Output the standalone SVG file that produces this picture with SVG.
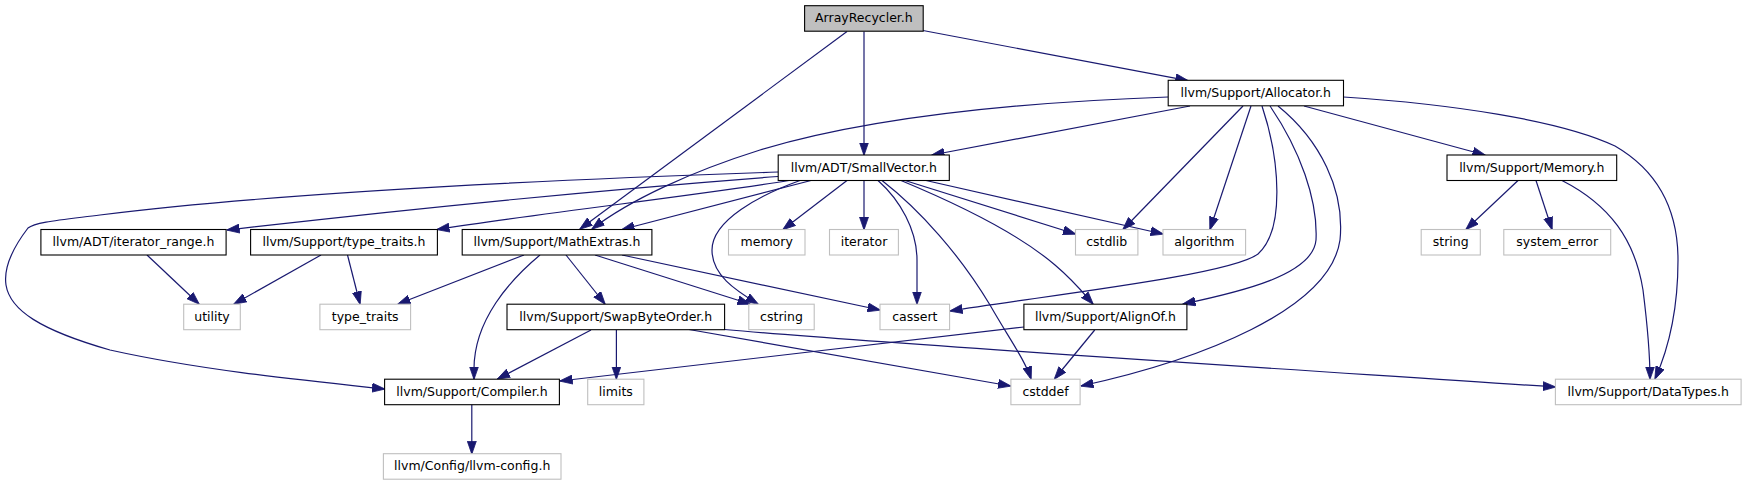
<svg xmlns="http://www.w3.org/2000/svg" width="1746" height="485" viewBox="0 0 1746 485">
<style>
.n rect{fill:#fff;stroke:#000;stroke-width:1.1}
.g rect{fill:#fff;stroke:#bfbfbf;stroke-width:1.1}
.root rect{fill:#bfbfbf;stroke:#000;stroke-width:1.1}
text{font-family:"DejaVu Sans",sans-serif;font-size:12.5px;text-anchor:middle;fill:#000}
.e path{fill:none;stroke:#191970;stroke-width:1.2;marker-end:url(#ah)}
</style>
<defs>
<marker id="ah" markerUnits="userSpaceOnUse" viewBox="0 0 13 10" refX="12.5" refY="5" markerWidth="13" markerHeight="10" orient="auto">
<path d="M0,0.5 L13,5 L0,9.5 z" fill="#191970" stroke="#191970" stroke-width="0.8"/>
</marker>
</defs>
<rect width="1746" height="485" fill="#fff"/>
<g class="e" id="edges">
<path d="M864,31.5 L864,155"/>
<path d="M847,31.5 L580,229"/>
<path d="M923,30.5 L1188,80.7"/>
<path d="M1190,106 L932,155"/>
<path d="M1168,97 C1000,103 860,120 760,150 C690,172 630,200 592,229"/>
<path d="M1243,106 L1123,229.5"/>
<path d="M1251,106 L1210,229.5"/>
<path d="M1262,106 C1280,160 1285,230 1258,254 C1230,275 1050,295 950,311"/>
<path d="M1270,106 C1300,150 1318,200 1316,240 C1313,275 1240,292 1183,304"/>
<path d="M1278,106 C1320,140 1345,190 1340,240 C1330,310 1200,360 1081,386"/>
<path d="M1304,106 L1485,155"/>
<path d="M1343.5,97 C1450,104 1560,120 1615,146 C1665,175 1678,220 1678,260 C1678,310 1668,350 1655,379"/>
<path d="M1518,180.5 L1466,229.5"/>
<path d="M1536,180.5 L1552,229.5"/>
<path d="M1562,180.5 C1610,205 1635,240 1643,290 C1648,330 1650,355 1650,379"/>
<path d="M778,172 C600,178 300,190 100,215 C60,220 35,222 28,228 C15,245 3,265 6,285 C10,310 40,330 110,350 C200,370 300,380 384.6,389"/>
<path d="M778,176.5 C600,190 400,210 227,230"/>
<path d="M789,180.5 C700,195 550,212 437,229.5"/>
<path d="M811,180.5 L622,229.5"/>
<path d="M847,180.5 L783,229.5"/>
<path d="M864,180.5 L864,229.5"/>
<path d="M800,180.5 C760,195 712,220 712,250 C712,275 735,290 758,304"/>
<path d="M878,180.5 C900,200 917,230 917,260 L917,304"/>
<path d="M882,180.5 C920,210 960,255 990,305 C1010,340 1025,360 1031,379"/>
<path d="M901,180.5 C960,205 1020,235 1055,265 C1075,282 1085,295 1093,304"/>
<path d="M905,180.5 L1075.5,234"/>
<path d="M926,180.5 L1163,234"/>
<path d="M524,255 L398,304"/>
<path d="M540,255 C510,280 474,320 474,369 L474,379"/>
<path d="M566,255 L605,304"/>
<path d="M595,255 L750,304"/>
<path d="M622,255 L880,310"/>
<path d="M147,255 L199,304"/>
<path d="M321,255 L234,304"/>
<path d="M347.5,255 L360,304"/>
<path d="M591,330 L497.5,379"/>
<path d="M616.4,330 L616.4,379"/>
<path d="M689,329.5 L1010.5,386"/>
<path d="M724.6,329.5 C900,345 1300,370 1555.4,387"/>
<path d="M1024,327 L560,381"/>
<path d="M1094.7,330 L1054.5,379"/>
<path d="M471.8,404.5 L471.8,453.7"/>
</g>
<g id="n_ArrayRecycler" class="root"><rect x="804.6" y="5.7" width="118.6" height="25.5"/><text x="863.9" y="22.4">ArrayRecycler.h</text></g>
<g id="n_Allocator" class="n"><rect x="1168.2" y="80.3" width="175.3" height="25.5"/><text x="1255.8" y="97">llvm/Support/Allocator.h</text></g>
<g id="n_SmallVector" class="n"><rect x="778.2" y="155" width="171.1" height="25.5"/><text x="863.8" y="171.7">llvm/ADT/SmallVector.h</text></g>
<g id="n_Memory" class="n"><rect x="1447" y="155" width="169.7" height="25.5"/><text x="1531.8" y="171.7">llvm/Support/Memory.h</text></g>
<g id="n_iterator_range" class="n"><rect x="40.9" y="229.5" width="185.2" height="25.5"/><text x="133.5" y="246.2">llvm/ADT/iterator_range.h</text></g>
<g id="n_type_traits_h" class="n"><rect x="250.6" y="229.5" width="186.8" height="25.5"/><text x="344" y="246.2">llvm/Support/type_traits.h</text></g>
<g id="n_MathExtras" class="n"><rect x="462.2" y="229.5" width="189.7" height="25.5"/><text x="557" y="246.2">llvm/Support/MathExtras.h</text></g>
<g id="n_memory" class="g"><rect x="728.5" y="229.5" width="76.5" height="25.5"/><text x="766.7" y="246.2">memory</text></g>
<g id="n_iterator" class="g"><rect x="829.5" y="229.5" width="68.9" height="25.5"/><text x="864" y="246.2">iterator</text></g>
<g id="n_cstdlib" class="g"><rect x="1075.5" y="229.5" width="62.4" height="25.5"/><text x="1106.7" y="246.2">cstdlib</text></g>
<g id="n_algorithm" class="g"><rect x="1163" y="229.5" width="82.6" height="25.5"/><text x="1204.3" y="246.2">algorithm</text></g>
<g id="n_string" class="g"><rect x="1421.2" y="229.5" width="59.1" height="25.5"/><text x="1450.7" y="246.2">string</text></g>
<g id="n_system_error" class="g"><rect x="1503.8" y="229.5" width="106.9" height="25.5"/><text x="1557.2" y="246.2">system_error</text></g>
<g id="n_utility" class="g"><rect x="183.7" y="304.2" width="56.6" height="25.5"/><text x="212" y="320.9">utility</text></g>
<g id="n_type_traits" class="g"><rect x="319.9" y="304.2" width="90.7" height="25.5"/><text x="365.2" y="320.9">type_traits</text></g>
<g id="n_SwapByteOrder" class="n"><rect x="507" y="304.2" width="217.6" height="25.5"/><text x="615.8" y="320.9">llvm/Support/SwapByteOrder.h</text></g>
<g id="n_cstring" class="g"><rect x="748.8" y="304.2" width="65.4" height="25.5"/><text x="781.5" y="320.9">cstring</text></g>
<g id="n_cassert" class="g"><rect x="880" y="304.2" width="69.6" height="25.5"/><text x="914.8" y="320.9">cassert</text></g>
<g id="n_AlignOf" class="n"><rect x="1023.9" y="304.2" width="163" height="25.5"/><text x="1105.4" y="320.9">llvm/Support/AlignOf.h</text></g>
<g id="n_Compiler" class="n"><rect x="384.6" y="379.2" width="174.8" height="25.5"/><text x="472" y="395.9">llvm/Support/Compiler.h</text></g>
<g id="n_limits" class="g"><rect x="587.7" y="379.2" width="56.2" height="25.5"/><text x="615.8" y="395.9">limits</text></g>
<g id="n_cstddef" class="g"><rect x="1010.9" y="379.2" width="69.2" height="25.5"/><text x="1045.5" y="395.9">cstddef</text></g>
<g id="n_DataTypes" class="g"><rect x="1555.4" y="379.2" width="185.7" height="25.5"/><text x="1648.2" y="395.9">llvm/Support/DataTypes.h</text></g>
<g id="n_llvm_config" class="g"><rect x="383.4" y="453.7" width="177.6" height="25.5"/><text x="472.2" y="470.4">llvm/Config/llvm-config.h</text></g>
</svg>
